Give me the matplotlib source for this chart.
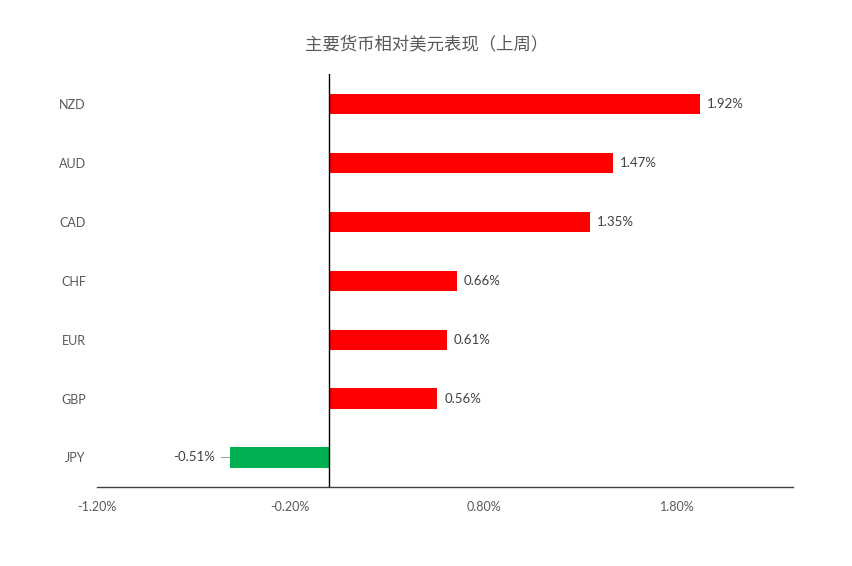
import matplotlib
matplotlib.use('Agg')
import matplotlib.pyplot as plt
import matplotlib.ticker as mticker

plt.rcParams['font.family'] = ['Lato', 'Noto Sans CJK SC', 'DejaVu Sans']

# Data (weekly change vs USD, %)
currencies = ['NZD', 'AUD', 'CAD', 'CHF', 'EUR', 'GBP', 'JPY']
changes = [1.92, 1.47, 1.35, 0.66, 0.61, 0.56, -0.51]
xticks = [-1.2, -0.2, 0.8, 1.8]

fig = plt.figure(figsize=(8.53, 5.66), dpi=100)
ax = fig.add_axes([0.1137, 0.1396, 0.816, 0.7294])

ypos = list(range(len(currencies)))[::-1]
colors = ['#FF0000' if v >= 0 else '#00B050' for v in changes]
ax.barh(ypos, changes, height=0.34, color=colors, zorder=2)

ax.set_xlim(-1.2, 2.4)
ax.set_ylim(-0.5, len(currencies) - 0.5)

# value labels
for y, v in zip(ypos, changes):
    if v >= 0:
        ax.annotate(f'{v:.2f}%', (v, y), xytext=(5, 0), textcoords='offset points',
                    ha='left', va='center', fontsize=9.5, color='#404040')
    else:
        ax.plot([v - 0.05, v], [y, y], color='#A6A6A6', lw=0.8, zorder=1)
        ax.annotate(f'{v:.2f}%', (v, y), xytext=(-11, 0), textcoords='offset points',
                    ha='right', va='center', fontsize=9.5, color='#404040')

ax.axvline(0, color='black', lw=1, zorder=3)

ax.set_xticks(xticks)
ax.xaxis.set_major_formatter(mticker.FuncFormatter(lambda x, p: f'{x:.2f}%'))
ax.set_yticks(ypos)
ax.set_yticklabels(currencies)
ax.tick_params(axis='x', length=0, pad=10, labelsize=9, labelcolor='#595959')
ax.tick_params(axis='y', length=0, pad=8, labelsize=9, labelcolor='#595959')

for s in ['top', 'right', 'left']:
    ax.spines[s].set_visible(False)
ax.spines['bottom'].set_color('#404040')
ax.spines['bottom'].set_linewidth(1)

fig.text(0.5, 0.922, '主要货币相对美元表现（上周）', ha='center', va='center',
         fontsize=12.5, color='#595959', family=['Noto Sans CJK SC', 'DejaVu Sans'])

fig.savefig('out.png', dpi=100)
